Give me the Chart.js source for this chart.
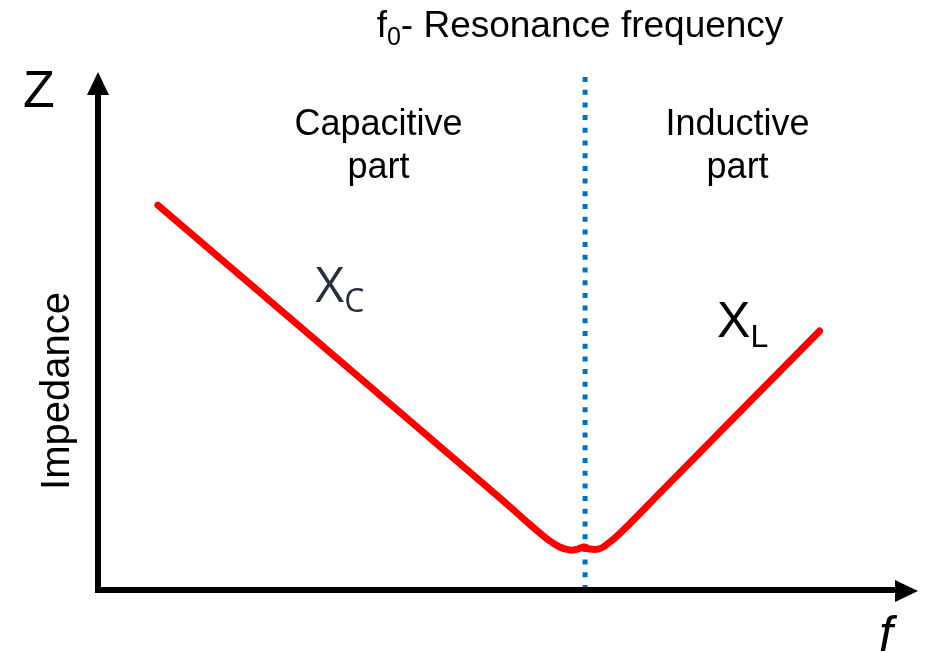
<!DOCTYPE html>
<html>
<head>
<meta charset="utf-8">
<script src="https://cdn.jsdelivr.net/npm/chart.js@4.4.0/dist/chart.umd.min.js"></script>
<style>
  html, body { margin: 0; padding: 0; background: #ffffff; }
  #wrap { width: 926px; height: 653px; position: relative; }
</style>
</head>
<body>
<div id="wrap"><canvas id="chart_impedance"></canvas></div>
<script>
// frequency (arbitrary units, 0..100) and impedance (arbitrary units, 0..100)
var curveFreq = [7.3, 49.0, 52.7, 54.9, 56.3, 57.6, 58.5, 59.3, 60.0, 61.0, 61.8, 63.7, 68.5, 88.0];
var curveZ    = [74.3, 17.8, 12.6, 9.7, 8.3, 7.7, 7.9, 8.3, 7.9, 7.9, 8.5, 11.0, 18.7, 50.0];
var resonanceFreq = 59.4;
var resonanceSpan = [0, 100];

var titleText = 'Resonance frequency';
var regionLabels = [['Capacitive', 'part'], ['Inductive', 'part']];
var regionFreq = [34.2, 78.0];
var reactanceLabels = [['X', 'C'], ['X', 'L']];
var reactanceAt = [[26.5, 55.6], [75.5, 48.8]];

var curvePoints = curveFreq.map(function (f, i) { return { x: f, y: curveZ[i] }; });
var resonancePoints = resonanceSpan.map(function (z) { return { x: resonanceFreq, y: z }; });

var chart_impedance = new Chart(document.getElementById('chart_impedance'), {
    type: 'line',
    data: {
        datasets: [
            {
                label: 'f0',
                data: resonancePoints,
                borderColor: '#0070c0',
                borderWidth: 5,
                borderDash: [5, 7.7],
                pointRadius: 0,
                order: 2
            },
            {
                label: 'Z',
                data: curvePoints,
                borderColor: '#ff0000',
                borderWidth: 7,
                borderCapStyle: 'round',
                borderJoinStyle: 'round',
                tension: 0.35,
                pointRadius: 0,
                order: 1
            }
        ]
    },
    options: {
        animation: false,
        responsive: true,
        maintainAspectRatio: false,
        layout: { padding: { left: 98, right: 8, top: 72, bottom: 63 } },
        plugins: {
            legend: { display: false },
            tooltip: { enabled: false }
        },
        scales: {
            x: { type: 'linear', min: 0, max: 100, display: false },
            y: { type: 'linear', min: 0, max: 100, display: false }
        }
    },
    plugins: [{
        id: 'axesAndText',
        afterDatasetsDraw: function (chart) {
            var ctx = chart.ctx;
            var a = chart.chartArea;
            var xs = chart.scales.x, ys = chart.scales.y;
            var sans = '"Liberation Sans", Arial, sans-serif';
            ctx.save();
            // axes
            ctx.strokeStyle = '#000';
            ctx.fillStyle = '#000';
            ctx.lineWidth = 6;
            ctx.beginPath();
            ctx.moveTo(a.left, a.top + 20);
            ctx.lineTo(a.left, a.bottom);
            ctx.lineTo(a.right - 22, a.bottom);
            ctx.stroke();
            // arrow heads
            ctx.beginPath();
            ctx.moveTo(a.left, a.top);
            ctx.lineTo(a.left - 11, a.top + 23);
            ctx.lineTo(a.left + 11, a.top + 23);
            ctx.closePath();
            ctx.fill();
            ctx.beginPath();
            ctx.moveTo(a.right, a.bottom + 1);
            ctx.lineTo(a.right - 23, a.bottom - 10);
            ctx.lineTo(a.right - 23, a.bottom + 12);
            ctx.closePath();
            ctx.fill();

            // axis names
            ctx.textBaseline = 'alphabetic';
            ctx.textAlign = 'left';
            ctx.font = '52px ' + sans;
            ctx.fillText('Z', 23, 107);
            ctx.font = 'italic 50px ' + sans;
            ctx.fillText('f', 879, 651);
            ctx.save();
            ctx.translate(69, 391);
            ctx.rotate(-Math.PI / 2);
            ctx.textAlign = 'center';
            ctx.font = '40px ' + sans;
            ctx.fillText('Impedance', 0, 0);
            ctx.restore();

            // title f0- Resonance frequency
            var big = '37px ' + sans, small = '25px ' + sans;
            var main = '- ' + titleText;
            ctx.font = big;
            var wF = ctx.measureText('f').width;
            var wM = ctx.measureText(main).width;
            ctx.font = small;
            var w0 = ctx.measureText('0').width;
            var tx = 580 - (wF + w0 + wM) / 2;
            ctx.font = big;
            ctx.fillText('f', tx, 37);
            ctx.font = small;
            ctx.fillText('0', tx + wF, 45);
            ctx.font = big;
            ctx.fillText(main, tx + wF + w0, 37);

            // region labels
            ctx.textAlign = 'center';
            ctx.font = '36px ' + sans;
            regionLabels.forEach(function (lines, i) {
                var cx = xs.getPixelForValue(regionFreq[i]);
                ctx.fillText(lines[0], cx, 135);
                ctx.fillText(lines[1], cx, 178);
            });

            // reactance labels
            ctx.textAlign = 'left';
            var colors = ['#263140', '#000000'];
            var fonts = ['"Open Sans", ' + sans, sans];
            reactanceLabels.forEach(function (lab, i) {
                var px = xs.getPixelForValue(reactanceAt[i][0]);
                var py = ys.getPixelForValue(reactanceAt[i][1]);
                ctx.fillStyle = colors[i];
                ctx.font = '50px ' + fonts[i];
                ctx.fillText(lab[0], px, py);
                var w = ctx.measureText(lab[0]).width;
                ctx.font = '32px ' + fonts[i];
                ctx.fillText(lab[1], px + w, py + 10);
            });
            ctx.restore();
        }
    }, {
        id: 'whiteBg',
        beforeDraw: function (chart) {
            var ctx = chart.canvas.getContext('2d');
            ctx.save();
            ctx.globalCompositeOperation = 'destination-over';
            ctx.fillStyle = 'white';
            ctx.fillRect(0, 0, chart.canvas.width, chart.canvas.height);
            ctx.restore();
        }
    }]
});
</script>
</body>
</html>
